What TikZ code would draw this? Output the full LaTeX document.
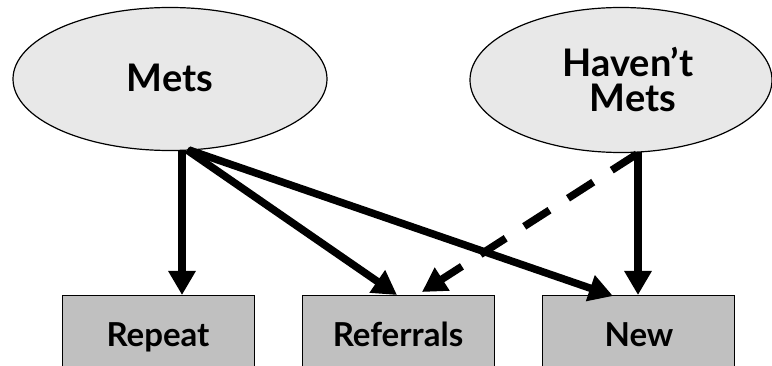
\documentclass[tikz,border=0pt]{standalone}
\usepackage{fontspec}
\setmainfont{Lato}
\usetikzlibrary{arrows.meta,shapes.geometric}
\definecolor{ovalgray}{HTML}{E8E8E8}
\definecolor{boxgray}{HTML}{C0C0C0}
\begin{document}
\begin{tikzpicture}[x=1pt,y=-1pt,
  oval/.style={ellipse,draw=black,line width=1.2pt,fill=ovalgray,inner sep=0pt},
  box/.style={rectangle,draw=black,line width=1.2pt,fill=boxgray,inner sep=0pt,
    minimum width=192pt,minimum height=90pt,anchor=north west},
  big/.style={font=\fontsize{38}{37}\selectfont\bfseries,inner sep=0pt,anchor=base},
  small/.style={font=\fontsize{33}{30}\selectfont\bfseries,inner sep=0pt,anchor=base},
  arr/.style={line width=7.5pt,-{Triangle[length=24pt,width=26pt]}},
]
\useasboundingbox (0,0) rectangle (772,366);
\clip (0,0) rectangle (772,366);
\node[oval,minimum width=314pt,minimum height=143pt] (mets) at (170,79) {};
\node[oval,minimum width=302pt,minimum height=145pt] (hm) at (621,80) {};
\node[big] (metstext) at (170,92) {Mets};
\node[big] (hmtext1) at (628,77) {Haven’t};
\node[big] (hmtext2) at (633,112) {Mets};
\node[box] (repeat) at (62,295) {};
\node[box] (refer) at (302,295) {};
\node[box] (new) at (542,295) {};
\node[small] (repeattext) at (158,347) {Repeat};
\node[small] (refertext) at (398,347) {Referrals};
\node[small] (newtext) at (639,347) {New};
\coordinate (m1) at (182,150);
\coordinate (m2) at (187,150);
\coordinate (m3) at (189,150);
\coordinate (h1) at (638,152);
\coordinate (h2) at (637,154);
\coordinate (rep1) at (182,295);
\coordinate (ref1) at (397,295);
\coordinate (ref2) at (422,292);
\coordinate (new1) at (613,296);
\coordinate (new2) at (638,295);
\draw[arr] (m1) -- (rep1);
\draw[arr] (m2) -- (ref1);
\draw[arr] (m3) -- (new1);
\draw[arr] (h1) -- (new2);
\draw[arr,dash pattern=on 30pt off 22pt] (h2) -- (ref2);
\end{tikzpicture}
\end{document}
